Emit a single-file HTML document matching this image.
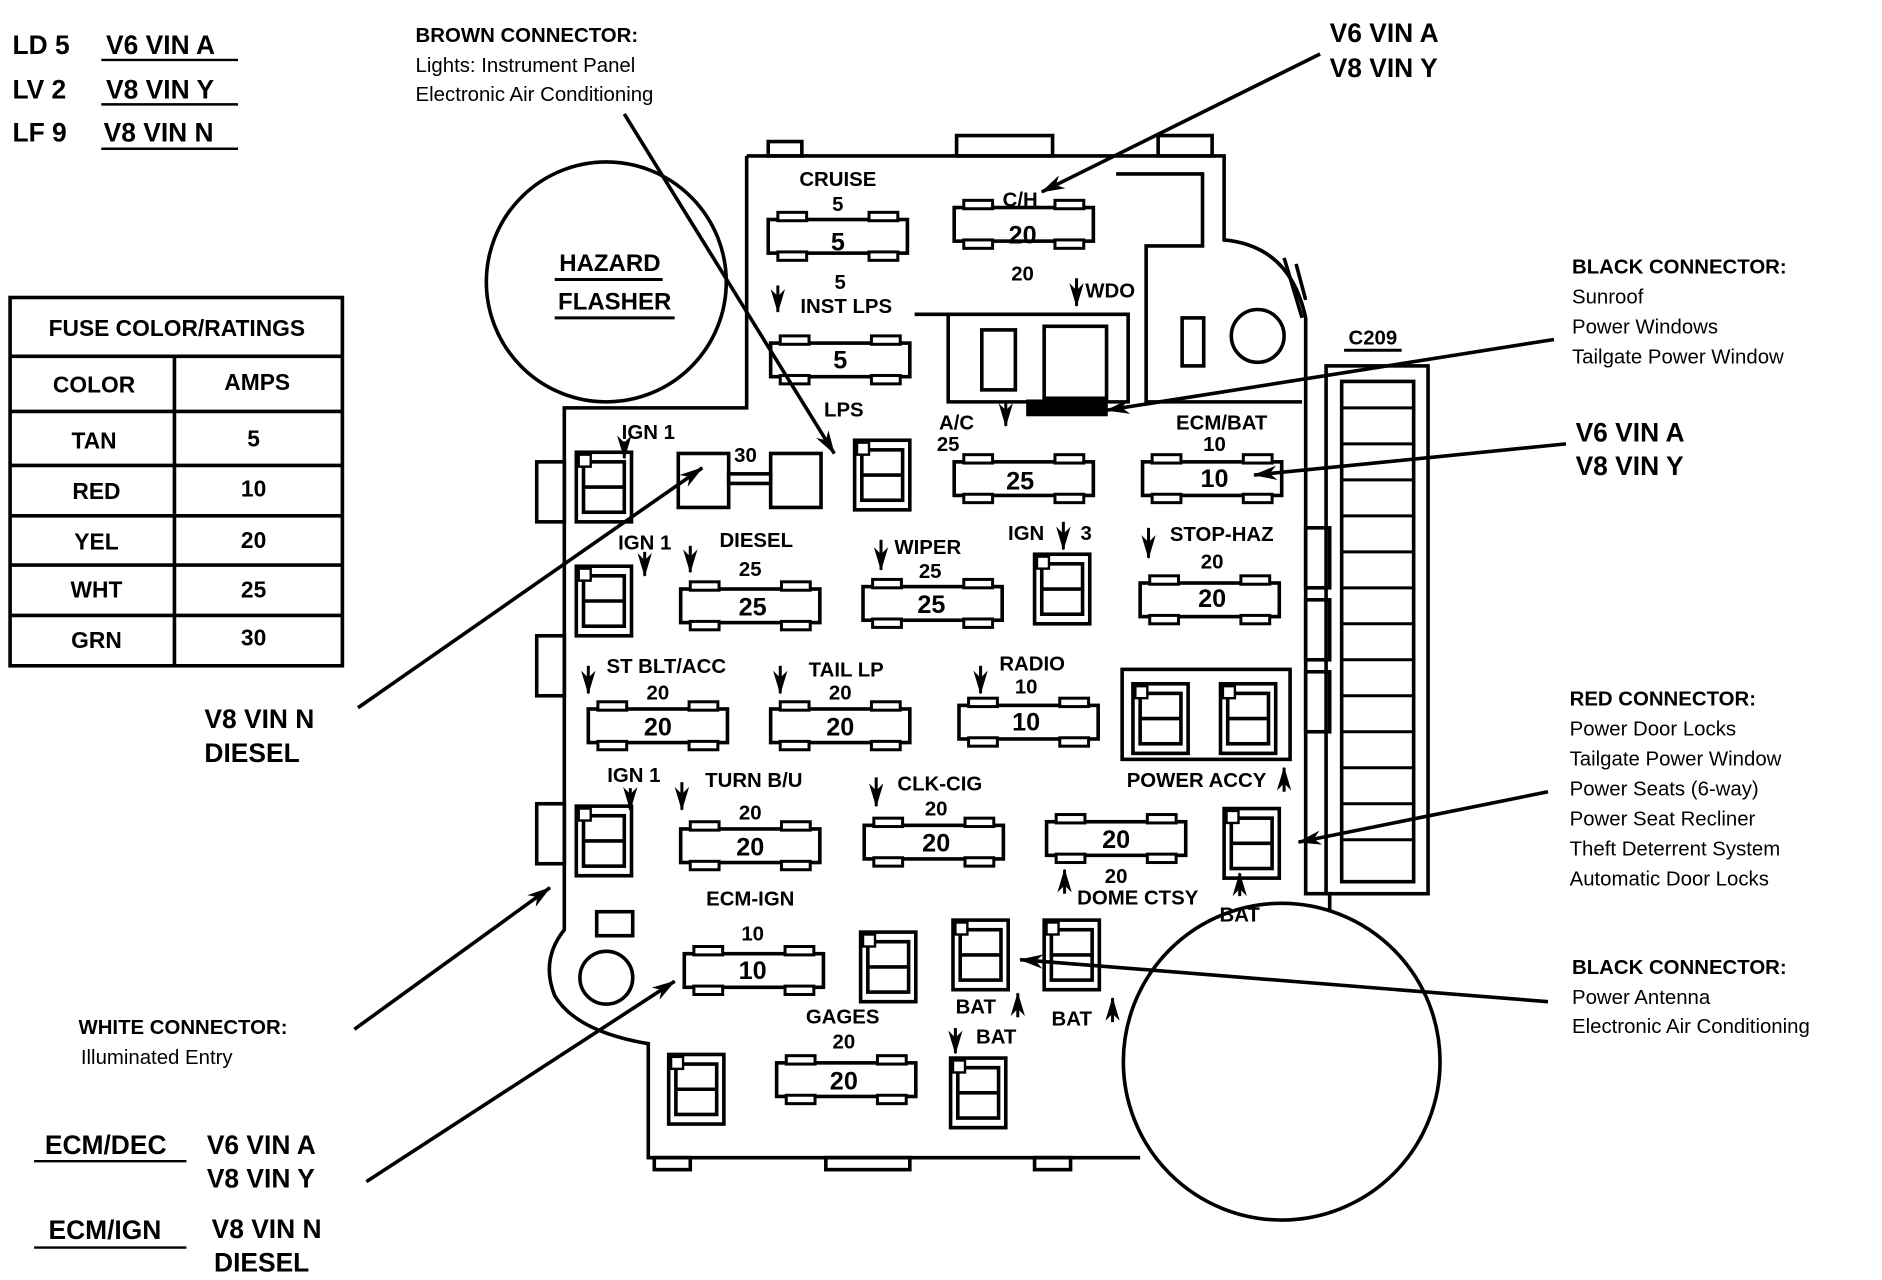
<!DOCTYPE html>
<html><head><meta charset="utf-8"><style>
html,body{margin:0;padding:0;background:#fff}
svg{display:block}
.b{font-family:"Liberation Sans",sans-serif;font-weight:bold;fill:#000}
.n{font-family:"Liberation Sans",sans-serif;fill:#000}
</style></head><body>
<svg width="1882" height="1280" viewBox="0 0 1568 1067" xmlns="http://www.w3.org/2000/svg">
<defs>
<symbol id="f" viewBox="0 0 120 44" width="120" height="44">
<rect x="2" y="8" width="116" height="28" fill="#fff" stroke="#000" stroke-width="3"/>
<rect x="10" y="2" width="24" height="7" fill="#fff" stroke="#000" stroke-width="2.5"/>
<rect x="86" y="2" width="24" height="7" fill="#fff" stroke="#000" stroke-width="2.5"/>
<rect x="10" y="35" width="24" height="7" fill="#fff" stroke="#000" stroke-width="2.5"/>
<rect x="86" y="35" width="24" height="7" fill="#fff" stroke="#000" stroke-width="2.5"/>
</symbol>
<symbol id="r" viewBox="0 0 50 62" width="50" height="62">
<rect x="2" y="2" width="46" height="58" fill="#fff" stroke="#000" stroke-width="3"/>
<rect x="8" y="10" width="34" height="42" fill="#fff" stroke="#000" stroke-width="3"/>
<line x1="8" y1="31" x2="42" y2="31" stroke="#000" stroke-width="3"/>
<rect x="4" y="4" width="10" height="10" fill="#fff" stroke="#000" stroke-width="2"/>
</symbol>
<marker id="a" viewBox="0 0 20 12" refX="19" refY="6" markerWidth="20" markerHeight="12" markerUnits="userSpaceOnUse" orient="auto"><path d="M0,0 L20,6 L0,12 L6,6z" fill="#000"/></marker>
</defs>
<g fill="none" stroke="#000" stroke-width="3">
<!-- main outline -->
<path d="M622,130 L1020,130 L1020,200 Q1075,205 1088,265 L1088,745 L1108,745 L1108,760"/>
<path d="M622,130 L622,340 L470,340 L470,775 Q450,800 462,830 Q480,860 540,870 L540,965 L950,965"/>
<circle cx="505" cy="815" r="22"/>
<circle cx="1068" cy="885" r="132"/>
<circle cx="505" cy="235" r="100"/>
<circle cx="1048" cy="280" r="22"/>
<path d="M930,145 L1002,145 L1002,205 L955,205 L955,335 L1085,335"/>
<rect x="985" y="265" width="18" height="40"/>
<path d="M762,262 L940,262 L940,335 L790,335 L790,262"/>
<rect x="870" y="272" width="52" height="60"/>
<rect x="818" y="275" width="28" height="50"/>
<rect x="935" y="558" width="140" height="75"/>
<rect x="1105" y="305" width="85" height="440"/>
<path d="M1118,318 L1178,318 L1178,735 L1118,735z"/>
<rect x="447" y="385" width="23" height="50"/><rect x="447" y="530" width="23" height="50"/><rect x="447" y="670" width="23" height="50"/>
<rect x="1088" y="440" width="20" height="50"/><rect x="1088" y="500" width="20" height="50"/><rect x="1088" y="560" width="20" height="50"/>
<path d="M1088,250 L1080,220 M1070,215 L1085,265"/>
<rect x="640" y="118" width="28" height="12"/><rect x="797" y="113" width="80" height="17"/><rect x="965" y="113" width="45" height="17"/>
<rect x="545" y="965" width="30" height="10"/><rect x="688" y="965" width="70" height="10"/><rect x="862" y="965" width="30" height="10"/>
<rect x="497" y="760" width="30" height="20"/>
</g>
<rect x="855" y="333" width="68" height="14" fill="#000"/>
<g stroke="#000" stroke-width="2.5" fill="none">
<line x1="1118" y1="340" x2="1178" y2="340"/><line x1="1118" y1="370" x2="1178" y2="370"/><line x1="1118" y1="400" x2="1178" y2="400"/><line x1="1118" y1="430" x2="1178" y2="430"/><line x1="1118" y1="460" x2="1178" y2="460"/><line x1="1118" y1="490" x2="1178" y2="490"/><line x1="1118" y1="520" x2="1178" y2="520"/><line x1="1118" y1="550" x2="1178" y2="550"/><line x1="1118" y1="580" x2="1178" y2="580"/><line x1="1118" y1="610" x2="1178" y2="610"/><line x1="1118" y1="640" x2="1178" y2="640"/><line x1="1118" y1="670" x2="1178" y2="670"/><line x1="1118" y1="700" x2="1178" y2="700"/>
</g>
<!-- fuses -->
<use href="#f" x="638" y="175"/><use href="#f" x="793" y="165"/><use href="#f" x="640" y="278"/>
<use href="#f" x="793" y="377"/><use href="#f" x="950" y="377"/>
<use href="#f" x="565" y="483"/><use href="#f" x="717" y="481"/><use href="#f" x="948" y="478"/>
<use href="#f" x="488" y="583"/><use href="#f" x="640" y="583"/><use href="#f" x="797" y="580"/>
<use href="#f" x="565" y="683"/><use href="#f" x="718" y="680"/><use href="#f" x="870" y="677"/>
<use href="#f" x="568" y="787"/><use href="#f" x="645" y="878"/>
<!-- relays -->
<use href="#r" x="478" y="375"/><use href="#r" x="478" y="470"/><use href="#r" x="478" y="670"/>
<use href="#r" x="710" y="365"/><use href="#r" x="860" y="460"/><use href="#r" x="1018" y="672"/>
<use href="#r" x="715" y="775"/><use href="#r" x="792" y="765"/><use href="#r" x="868" y="765"/>
<use href="#r" x="555" y="877"/><use href="#r" x="790" y="880"/>
<use href="#r" x="942" y="568"/><use href="#r" x="1015" y="568"/>
<g fill="#fff" stroke="#000" stroke-width="3">
<rect x="565" y="378" width="42" height="45"/><rect x="642" y="378" width="42" height="45"/>
<rect x="607" y="395" width="35" height="8"/>
</g>
<!-- fuse values -->
<g class="b" font-size="21" text-anchor="middle">
<text x="698" y="209">5</text><text x="852" y="203">20</text><text x="700" y="307">5</text>
<text x="850" y="408">25</text><text x="1012" y="406">10</text>
<text x="627" y="513">25</text><text x="776" y="511">25</text><text x="1010" y="506">20</text>
<text x="548" y="613">20</text><text x="700" y="613">20</text><text x="855" y="609">10</text>
<text x="625" y="713">20</text><text x="780" y="710">20</text><text x="930" y="707">20</text>
<text x="627" y="816">10</text><text x="703" y="908">20</text>
</g>
<!-- labels -->
<g class="b" font-size="17" text-anchor="middle">
<text x="698" y="155">CRUISE</text><text x="698" y="176">5</text>
<text x="850" y="172">C/H</text><text x="852" y="234">20</text>
<text x="700" y="241">5</text><text x="705" y="261">INST LPS</text><text x="925" y="248">WDO</text>
<text x="703" y="347">LPS</text><text x="797" y="358">A/C</text><text x="790" y="376">25</text>
<text x="1018" y="358">ECM/BAT</text><text x="1012" y="376">10</text>
<text x="540" y="366">IGN 1</text><text x="621" y="385">30</text>
<text x="537" y="458">IGN 1</text><text x="630" y="456">DIESEL</text><text x="625" y="480">25</text>
<text x="773" y="462">WIPER</text><text x="775" y="482">25</text>
<text x="855" y="450">IGN</text><text x="905" y="450">3</text>
<text x="1018" y="451">STOP-HAZ</text><text x="1010" y="474">20</text>
<text x="555" y="561">ST BLT/ACC</text><text x="548" y="583">20</text>
<text x="705" y="564">TAIL  LP</text><text x="700" y="583">20</text>
<text x="860" y="559">RADIO</text><text x="855" y="578">10</text>
<text x="528" y="652">IGN 1</text><text x="628" y="656">TURN B/U</text><text x="625" y="683">20</text>
<text x="783" y="659">CLK-CIG</text><text x="780" y="680">20</text>
<text x="997" y="656">POWER ACCY</text><text x="930" y="736">20</text><text x="948" y="754">DOME CTSY</text>
<text x="1033" y="768">BAT</text>
<text x="625" y="755">ECM-IGN</text><text x="627" y="784">10</text>
<text x="702" y="853">GAGES</text><text x="703" y="874">20</text>
<text x="813" y="845">BAT</text><text x="893" y="855">BAT</text><text x="830" y="870">BAT</text>
<text x="1144" y="287">C209</text>
<text x="508" y="226" font-size="20">HAZARD</text><text x="512" y="258" font-size="20">FLASHER</text>
</g>
<g stroke="#000" stroke-width="2.5"><line x1="462" y1="233" x2="552" y2="233"/><line x1="462" y1="265" x2="562" y2="265"/><line x1="1120" y1="292" x2="1168" y2="292"/></g>
<!-- small down arrows -->
<g stroke="#000" stroke-width="2.5" marker-end="url(#a)">
<line x1="648" y1="238" x2="648" y2="260"/><line x1="897" y1="232" x2="897" y2="255"/><line x1="838" y1="335" x2="838" y2="355"/>
<line x1="520" y1="368" x2="520" y2="382"/><line x1="537" y1="460" x2="537" y2="480"/><line x1="575" y1="455" x2="575" y2="477"/>
<line x1="734" y1="450" x2="734" y2="475"/><line x1="886" y1="435" x2="886" y2="458"/><line x1="957" y1="440" x2="957" y2="465"/>
<line x1="490" y1="555" x2="490" y2="578"/><line x1="650" y1="555" x2="650" y2="578"/><line x1="817" y1="555" x2="817" y2="578"/>
<line x1="525" y1="657" x2="525" y2="675"/><line x1="568" y1="652" x2="568" y2="675"/><line x1="730" y1="648" x2="730" y2="672"/>
<line x1="796" y1="857" x2="796" y2="878"/>
<line x1="1070" y1="660" x2="1070" y2="640"/><line x1="887" y1="745" x2="887" y2="725"/><line x1="1033" y1="747" x2="1033" y2="728"/>
<line x1="848" y1="848" x2="848" y2="828"/><line x1="927" y1="852" x2="927" y2="832"/>
</g>
<!-- leader arrows -->
<g stroke="#000" stroke-width="3" marker-end="url(#a)">
<line x1="1100" y1="45" x2="868" y2="160"/>
<line x1="520" y1="95" x2="695" y2="378"/>
<line x1="1295" y1="283" x2="922" y2="342"/>
<line x1="1305" y1="370" x2="1045" y2="396"/>
<line x1="298" y1="590" x2="585" y2="390"/>
<line x1="1290" y1="660" x2="1082" y2="702"/>
<line x1="295" y1="858" x2="458" y2="740"/>
<line x1="305" y1="985" x2="562" y2="818"/>
<line x1="1290" y1="835" x2="850" y2="800"/>
</g>
<!-- top left legend -->
<g class="b" font-size="22">
<text x="10" y="45">LD 5</text><text x="10" y="82">LV 2</text><text x="10" y="118">LF 9</text>
<text x="88" y="45">V6 VIN A</text><text x="88" y="82">V8 VIN Y</text><text x="86" y="118">V8 VIN N</text>
</g>
<g stroke="#000" stroke-width="2"><line x1="84" y1="50" x2="198" y2="50"/><line x1="84" y1="87" x2="198" y2="87"/><line x1="84" y1="124" x2="198" y2="124"/></g>
<!-- table -->
<g fill="none" stroke="#000" stroke-width="3">
<rect x="8" y="248" width="277" height="307"/>
<line x1="8" y1="297" x2="285" y2="297"/><line x1="8" y1="343" x2="285" y2="343"/>
<line x1="8" y1="388" x2="285" y2="388"/><line x1="8" y1="430" x2="285" y2="430"/><line x1="8" y1="471" x2="285" y2="471"/><line x1="8" y1="513" x2="285" y2="513"/>
<line x1="145" y1="297" x2="145" y2="555"/>
</g>
<g class="b" font-size="19" text-anchor="middle">
<text x="147" y="280">FUSE COLOR/RATINGS</text>
<text x="78" y="327">COLOR</text><text x="214" y="325">AMPS</text>
<text x="78" y="374">TAN</text><text x="211" y="372">5</text>
<text x="80" y="416">RED</text><text x="211" y="414">10</text>
<text x="80" y="458">YEL</text><text x="211" y="457">20</text>
<text x="80" y="498">WHT</text><text x="211" y="498">25</text>
<text x="80" y="540">GRN</text><text x="211" y="538">30</text>
</g>
<!-- side labels -->
<g class="b" font-size="22">
<text x="1108" y="35">V6 VIN A</text><text x="1108" y="64">V8 VIN Y</text>
<text x="1313" y="368">V6 VIN A</text><text x="1313" y="396">V8 VIN Y</text>
<text x="170" y="607">V8 VIN N</text><text x="170" y="635">DIESEL</text>
<text x="172" y="962">V6 VIN A</text><text x="172" y="990">V8 VIN Y</text>
<text x="176" y="1032">V8 VIN N</text><text x="178" y="1060">DIESEL</text>
<text x="37" y="962">ECM/DEC</text><text x="40" y="1033">ECM/IGN</text>
</g>
<g stroke="#000" stroke-width="2"><line x1="28" y1="968" x2="155" y2="968"/><line x1="28" y1="1040" x2="155" y2="1040"/></g>
<g class="b" font-size="17">
<text x="346" y="35">BROWN CONNECTOR:</text><text x="1310" y="228">BLACK CONNECTOR:</text>
<text x="1308" y="588">RED CONNECTOR:</text><text x="1310" y="812">BLACK CONNECTOR:</text>
<text x="65" y="862">WHITE CONNECTOR:</text>
</g>
<g class="n" font-size="17">
<text x="346" y="60">Lights: Instrument Panel</text><text x="346" y="84">Electronic Air Conditioning</text>
<text x="1310" y="253">Sunroof</text><text x="1310" y="278">Power Windows</text><text x="1310" y="303">Tailgate Power Window</text>
<text x="1308" y="613">Power Door Locks</text><text x="1308" y="638">Tailgate Power Window</text><text x="1308" y="663">Power Seats (6-way)</text><text x="1308" y="688">Power Seat Recliner</text><text x="1308" y="713">Theft Deterrent System</text><text x="1308" y="738">Automatic Door Locks</text>
<text x="1310" y="837">Power Antenna</text><text x="1310" y="861">Electronic Air Conditioning</text>
<text x="67" y="887">Illuminated Entry</text>
</g>
</svg>
</body></html>
